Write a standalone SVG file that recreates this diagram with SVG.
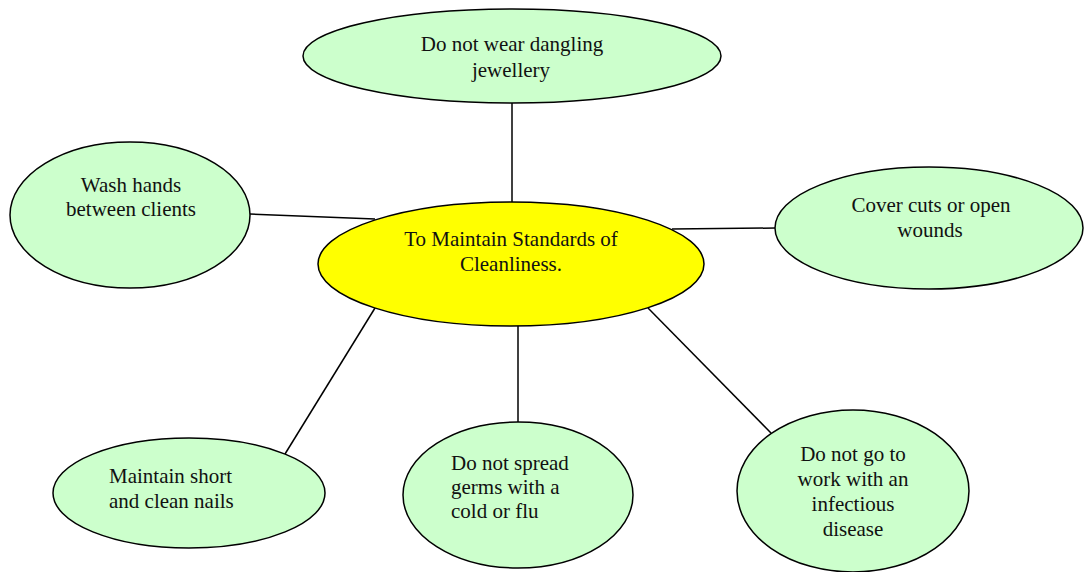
<svg xmlns="http://www.w3.org/2000/svg" width="1084" height="572" viewBox="0 0 1084 572">
<style>
.leaf{fill:#CCFFCC;stroke:#000;stroke-width:1.5}
.hub{fill:#FFFF00;stroke:#000;stroke-width:1.5}
.conn line{stroke:#000;stroke-width:1.5}
text{font-family:"Liberation Serif","Times New Roman",serif;font-size:21px;fill:#111}
.c{text-anchor:middle}
</style>
<rect width="1084" height="572" fill="#fff"/>
<g id="connectors" class="conn">
<line x1="512" y1="103" x2="512" y2="202"/>
<line x1="250" y1="214" x2="375" y2="219"/>
<line x1="672" y1="229" x2="775" y2="228"/>
<line x1="375" y1="308" x2="285" y2="454"/>
<line x1="518" y1="326" x2="518" y2="422"/>
<line x1="648" y1="308" x2="771" y2="433"/>
</g>
<g id="top">
<ellipse class="leaf" cx="512" cy="56" rx="209" ry="47"/>
<text class="c" x="512" y="51">Do not wear dangling</text>
<text class="c" x="511" y="77">jewellery</text>
</g>
<g id="wash">
<ellipse class="leaf" cx="130" cy="215" rx="120" ry="73"/>
<text class="c" x="131" y="192">Wash hands</text>
<text class="c" x="131" y="216">between clients</text>
</g>
<g id="center">
<ellipse class="hub" cx="511" cy="264" rx="193" ry="62"/>
<text class="c" x="511" y="246">To Maintain Standards of</text>
<text class="c" x="511" y="271">Cleanliness.</text>
</g>
<g id="cover">
<ellipse class="leaf" cx="929" cy="228" rx="154" ry="61"/>
<text class="c" x="931" y="212">Cover cuts or open</text>
<text class="c" x="930" y="237">wounds</text>
</g>
<g id="nails">
<ellipse class="leaf" cx="189" cy="493" rx="136" ry="55"/>
<text x="109" y="483">Maintain short</text>
<text x="109" y="508">and clean nails</text>
</g>
<g id="spread">
<ellipse class="leaf" cx="518" cy="495" rx="115" ry="73"/>
<text x="451" y="470">Do not spread</text>
<text x="451" y="494">germs with a</text>
<text x="451" y="518">cold or flu</text>
</g>
<g id="infectious">
<ellipse class="leaf" cx="853" cy="491" rx="116" ry="81"/>
<text class="c" x="853" y="461">Do not go to</text>
<text class="c" x="853" y="486">work with an</text>
<text class="c" x="853" y="511">infectious</text>
<text class="c" x="853" y="536">disease</text>
</g>
</svg>
